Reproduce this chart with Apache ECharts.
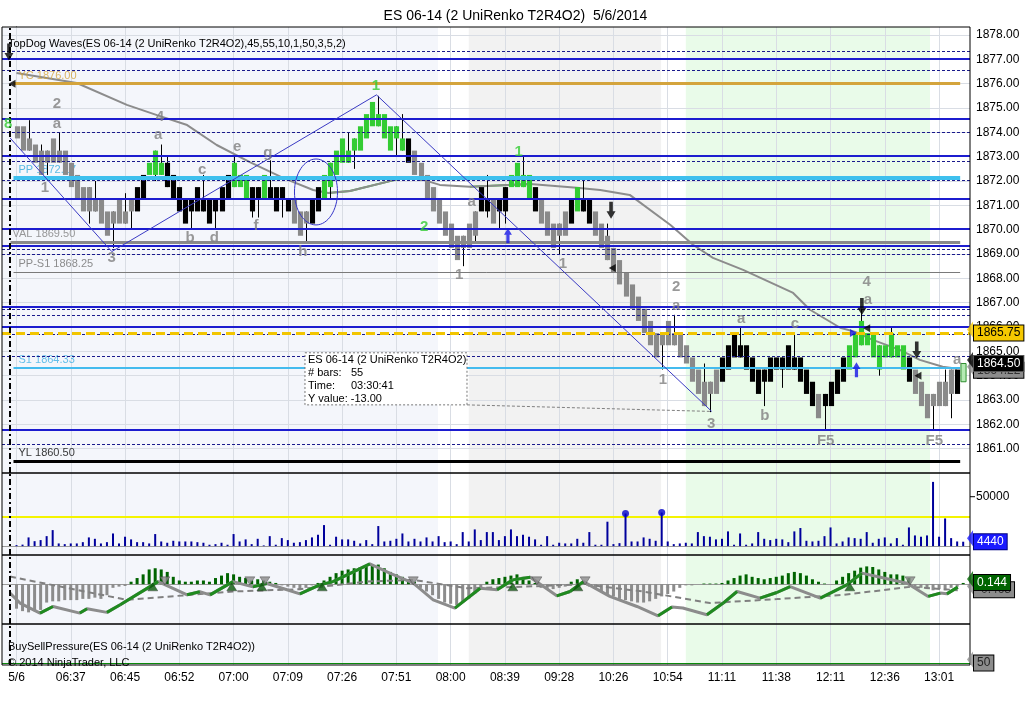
<!DOCTYPE html>
<html>
<head>
<meta charset="utf-8">
<title>ES 06-14 (2 UniRenko T2R4O2) 5/6/2014</title>
<script src="https://cdn.jsdelivr.net/npm/echarts@6/dist/echarts.min.js"></script>
<style>
html,body{margin:0;padding:0;background:#fff;}
#chart{width:1031px;height:711px;}
</style>
</head>
<body>
<div id="chart"></div>
<script>
// ---------------- DATA ----------------
const timeLabels = ['5/6','06:37','06:45','06:52','07:00','07:09','07:26','07:51','08:00','08:39','09:28','10:26','10:54','11:11','11:38','12:11','12:36','13:01'];
const labelEvery = 9;

// bar colour codes: G grey, K black, N green, L light (forming) bar
const barColor = ('GGGGGGGGGGGGGGGGGGGG' + 'KK' + 'NNN' + 'KKKKKKKKKKK' + 'NNN' + 'KK' + 'N' + 'KKKK' + 'GGG' + 'KK' +
  'NNNNNNNNNNNNNN' + 'K' + 'GGGGGGGGGGG' + 'KK' + 'G' + 'KK' + 'NNNN' + 'K' + 'GGGGG' + 'K' + 'N' + 'KK' +
  'GGGGGGGGGGGGGGGGGGGGG' + 'KKKKKKKKKKKKKKKK' + 'G' + 'KKKK' + 'NNNNNNNNNN' + 'K' + 'GGGGGGG' + 'K' + 'L').split('');

const barTop = [1874.25,1874.25,1873.75,1873.5,1873.25,1873.25,1873.75,1873.25,1873.25,1872.75,
1872.25,1871.75,1871.75,1871.25,1871.25,1870.75,1870.75,1871.25,1870.75,1871.25,
1871.75,1872.25,1872.75,1873.25,1872.75,1872.75,1872.25,1871.75,1871.25,1871.25,
1871.75,1871.25,1871.25,1871.25,1871.75,1872.25,1872.75,1872.25,1872.25,1871.75,
1871.75,1872.25,1871.75,1871.75,1871.75,1871.25,1871.25,1870.75,1870.75,1871.25,
1871.75,1872.25,1872.75,1873.25,1873.75,1873.25,1873.75,1874.25,1874.75,1875.25,
1874.75,1874.75,1874.25,1874.25,1873.75,1873.75,1873.25,1872.75,1872.25,1871.75,
1871.25,1870.75,1870.25,1869.75,1869.75,1870.25,1870.75,1871.75,1871.25,1871.25,
1871.25,1871.75,1872.25,1872.75,1872.25,1872.25,1871.75,1871.25,1870.75,1870.25,
1870.25,1870.75,1871.25,1871.75,1871.25,1871.25,1870.75,1870.25,1869.75,1869.25,
1868.75,1868.25,1867.75,1867.25,1866.75,1866.25,1865.75,1865.75,1866.25,1865.75,
1865.75,1865.25,1864.75,1864.25,1863.75,1863.75,1864.25,1864.75,1865.25,1865.75,
1865.25,1865.25,1864.75,1864.25,1864.25,1864.75,1864.75,1864.75,1865.25,1864.75,
1864.75,1864.25,1863.75,1863.25,1863.25,1863.75,1864.25,1864.75,1865.25,1865.75,
1866.25,1865.75,1865.75,1865.25,1865.25,1865.75,1865.25,1865.25,1864.75,1864.25,
1863.75,1863.25,1863.25,1863.75,1863.75,1864.25,1864.25,1864.5];

const barBot = [1873.75,1873.25,1873.25,1872.75,1872.25,1872.75,1872.75,1872.75,1872.25,1871.75,
1871.25,1870.75,1870.75,1870.75,1870.25,1869.75,1870.25,1870.25,1870.25,1870.75,
1870.75,1871.25,1872.25,1872.25,1872.25,1871.75,1871.25,1870.75,1870.25,1870.75,
1870.75,1870.75,1870.25,1870.75,1870.75,1871.25,1871.75,1871.75,1871.25,1870.75,
1871.25,1871.25,1871.25,1870.75,1871.25,1870.75,1870.25,1869.75,1870.25,1870.25,
1870.75,1871.25,1871.75,1872.25,1872.75,1872.75,1873.25,1873.25,1873.75,1874.25,
1874.25,1873.75,1873.25,1873.75,1873.25,1872.75,1872.25,1872.0,1871.25,1870.75,
1870.25,1869.75,1869.25,1868.75,1869.25,1869.25,1869.75,1870.75,1870.75,1870.25,
1870.75,1870.75,1871.75,1871.75,1871.75,1871.25,1870.75,1870.25,1869.75,1869.25,
1869.75,1869.75,1870.25,1870.75,1870.75,1870.25,1869.75,1869.25,1868.75,1868.25,
1867.75,1867.25,1866.75,1866.25,1865.75,1865.25,1864.75,1865.25,1865.25,1865.25,
1864.75,1864.5,1863.75,1863.25,1862.75,1863.25,1863.25,1863.75,1864.25,1864.75,
1864.75,1864.25,1863.75,1863.25,1863.75,1863.75,1864.25,1864.25,1864.25,1864.25,
1863.75,1863.25,1862.75,1862.25,1862.75,1862.75,1863.25,1863.75,1864.25,1864.75,
1865.25,1865.25,1864.75,1864.25,1864.75,1864.75,1864.75,1864.25,1863.75,1863.25,
1862.75,1862.25,1862.75,1862.75,1862.75,1863.25,1863.25,1863.75];

// wicks that reach beyond the body: [bar index, price]
const wickHigh = [[2,1874.5],[4,1873.5],[7,1874.0],[13,1872.0],[18,1871.5],[24,1873.5],[25,1873.0],[31,1872.25],
[36,1873.0],[42,1872.85],[55,1874.0],[60,1875.5],[64,1874.75],[78,1872.25],[84,1873.0],[94,1872.0],[98,1870.25],
[109,1866.5],[114,1864.5],[120,1866.0],[129,1865.75],[140,1866.75],[145,1866.0],[154,1864.25]];
const wickLow = [[5,1872.25],[12,1870.25],[16,1869.25],[19,1870.0],[23,1872.0],[29,1870.0],[33,1870.0],[39,1870.5],
[40,1870.5],[44,1870.5],[48,1869.5],[52,1871.25],[56,1872.5],[63,1873.0],[74,1868.5],[76,1869.5],[78,1870.5],
[80,1870.0],[81,1870.25],[90,1869.0],[107,1864.25],[115,1862.5],[124,1862.75],[127,1863.5],[134,1861.75],
[143,1864.0],[152,1861.75],[155,1862.25]];

const volume = [1000,1500,8800,5000,6100,10100,16200,2700,2000,2700,
2700,4000,8800,7400,2700,4000,12800,2700,9500,6800,
4000,4000,2700,12200,4700,3400,5400,4700,4700,4700,
4000,3400,1400,2000,3400,1400,12200,4700,6800,2000,
7400,700,10100,1400,8100,6100,3400,4000,6100,8800,
11500,21300,1400,9500,6800,6800,5400,2700,6100,2000,
20300,4700,5400,7400,12800,4700,7400,4700,8800,4700,
10100,4000,4700,2000,14200,4700,16900,6100,14200,14200,
6100,10100,16900,10100,11500,9500,6800,1400,10100,1400,
3400,2700,2700,7400,3400,14200,1400,1400,24700,2000,
3000,33000,4700,4700,8800,7400,5400,34000,4700,2000,
2700,3400,2700,14200,10100,9500,6800,7400,14900,1400,
12800,1400,2700,14200,7400,6100,7400,6800,4000,14900,
18300,5400,4700,5400,10100,18900,2700,4700,8800,8100,
7400,14200,3400,7400,8800,2700,8100,1400,18900,10800,
9500,10800,65000,9500,28000,8100,4700,4440];
const volumeAlertLevel = 30000;
const volumeDotIdx = [101,107];
const volumeAxisLabels = [50000];

const oscHist = [-2.0,-2.2,-2.3,-2.2,-2.1,-1.5,-1.4,-1.4,-1.3,-1.3,-1.3,-1.2,-1.2,-1.1,-1.2,-0.9,-0.3,-0.2,-0.15,
0.2,0.5,0.8,1.2,1.3,1.2,1.0,0.6,
0.3,0.2,0.2,0.3,0.3,0.2,0.5,0.7,0.9,0.8,0.6,
0.5,0.3,0.4,0.3,0.2,0.1,-0.1,-0.2,
-0.3,-0.4,-0.3,-0.1,0.1,
0.3,0.6,0.9,1.1,1.2,1.3,1.4,1.5,1.6,1.6,
1.3,1.0,0.8,0.6,0.4,0.2,
-0.3,-0.6,-0.9,-1.2,-1.5,-1.6,-1.7,-1.5,-1.2,-0.8,
-0.3,0.2,0.4,0.5,0.6,0.7,0.8,0.6,0.3,0.1,
-0.3,-0.4,-0.4,-0.3,-0.2,0.2,0.4,0.2,
-0.2,-0.4,-0.6,-0.8,-1.0,-1.2,-1.3,-1.4,-1.5,-1.5,-1.4,-1.2,-1.0,-0.8,-0.6,-0.3,
-0.1,-0.1,0,0.05,0.05,0.05,
0.1,0.3,0.5,0.7,0.8,0.6,0.5,0.4,0.5,0.6,0.7,0.9,1.0,0.9,0.7,0.4,0.2,0.05,0,
0.3,0.6,0.9,1.1,1.35,1.45,1.4,1.2,1.0,0.8,0.8,0.7,0.5,
-0.2,-0.3,-0.4,-0.5,-0.4,-0.5,-0.3,-0.2,0.1];

// oscillator main line vertices (bar index, value)
const oscLineX = [-1.08,0.58,3.9,6.05,10.5,11.7,15.0,17.2,22.6,23.5,28.3,30.4,32.1,35.9,39.2,41.5,44.2,47.0,50.3,52.5,58.6,61.9,65.8,69.1,72.7,76.9,79.7,82.3,85.2,89.6,91.8,94.0,98.4,102.9,106.4,108.7,110.5,114.5,117.2,119.5,123.3,126.1,128.3,133.3,137.7,140.2,142.7,147.7,151.2,153.2,154.3,156.1];
const oscLineY = [-0.73,-1.54,-2.36,-1.82,-2.36,-2.0,-2.3,-1.68,-0.06,0.21,-0.87,-0.62,-0.87,0.21,-0.22,0.05,-0.35,-0.79,-0.06,0.21,1.65,0.9,0.08,-1.28,-1.95,-0.33,-0.46,0.35,0.57,-0.95,-0.6,0.21,-1.0,-1.82,-2.58,-1.87,-1.95,-2.5,-1.54,-0.6,-1.14,-0.68,-0.2,-1.14,-0.06,0.9,0.62,0.08,-1.0,-0.73,-0.79,-0.24];
// signal (dashed) line vertices
const oscSigX = [-1.08,18.3,35.9,47.0,58.1,65.8,74.7,82.3,94.0,103.9,115.0,126.1,137.1,148.2,156.1];
const oscSigY = [0.62,-1.28,-0.6,-0.41,0.21,0.35,-0.33,-0.24,0.0,-0.6,-1.54,-1.22,-0.87,-0.22,-0.49];
const crossUpIdx = [22.6,35.7,40.7,50.7,82.3,93.1,138.2];
const crossDownIdx = [24.6,38.7,41.2,65.8,86.3,94.3,148.2];

// moving average vertices and green stretches (vertex index ranges)
const maX = [0,10,18.3,23.3,28.3,33.2,38.7,44.2,49.2,51.7,55.3,64.1,66.4,70.2,75.2,85.2,92.9,96.8,101.7,108.4,112.2,115.5,120.5,128.8,131.6,136.6,139.1,142,146.5,149.8,153.6,156];
const maY = [1876.44,1876.03,1875.13,1874.71,1874.30,1873.48,1872.78,1872.13,1871.63,1871.51,1871.59,1872.13,1872.13,1871.84,1871.76,1871.88,1871.72,1871.63,1871.43,1870.20,1869.38,1868.84,1868.35,1867.40,1866.71,1865.97,1865.80,1865.47,1865.06,1864.65,1864.37,1864.28];
const maGreenRanges = [[9,12],[14,15]];

// wave lines (bar index, price)
const waveX = [-1.07,15.8,59.7,115.3];
const waveY = [1873.77,1869.1,1875.54,1862.53];
const rulerX = [74.7,115.3];
const rulerY = [1862.8,1862.53];

const waveLabels = [
 [6.7,1875.17,'2','g'],[6.7,1874.34,'a','g'],[4.7,1871.72,'1','g'],[15.8,1868.84,'3','g'],
 [23.8,1874.63,'4','g'],[23.5,1873.89,'a','g'],[30.8,1872.46,'c','g'],[28.8,1869.66,'b','g'],
 [32.8,1869.66,'d','g'],[36.6,1873.40,'e','g'],[39.7,1870.16,'f','g'],[41.7,1873.15,'g','g'],
 [47.5,1869.09,'h','g'],[59.6,1875.9,'1','n'],[67.6,1870.1,'2','n'],[73.4,1868.14,'1','g'],
 [75.5,1871.14,'a','g'],[83.3,1873.2,'1','n'],[90.6,1868.6,'1','g'],[109.4,1867.65,'2','g'],
 [109.4,1866.87,'a','g'],[107.2,1863.83,'1','g'],[115.2,1862.02,'3','g'],[120.2,1866.34,'a','g'],
 [124.1,1862.35,'b','g'],[129.1,1866.13,'c','g'],[141,1867.86,'4','g'],[141.2,1867.12,'a','g'],
 [134.2,1861.33,'F5','g'],[152.2,1861.33,'F5','g'],[156,1864.65,'a','g'],[-1.4,1874.34,'8','n']
];

const downArrows = [[-1.25,1877.3],[98.6,1870.8],[140.2,1866.84],[149.3,1865.06]];
const upArrows = [[81.5,1869.75],[139.3,1864.24]];
const leftMarks = [[-0.75,1876.0],[98.8,1868.43],[141,1865.95],[149.5,1864.0]];
const rightMarks = [[138.8,1865.75]];

// horizontal levels
const dashedLevels = [1877.34,1876.56,1874.0,1872.83,1872.03,1871.24,1869.21,1868.99,1866.71,1866.49,1865.72,1864.8,1861.2];
const solidLevels = [1877.04,1874.54,1873.02,1871.29,1870.03,1869.33,1866.83,1866.0,1861.77];
const namedLevelPrice = [1876.00,1872.14,1869.50,1868.25,1864.33,1860.50];
const namedLevelText = ['YC 1876.00','PP 1872.17','VAL 1869.50','PP-S1 1868.25','S1 1864.33','YL 1860.50'];
const lastTradeLevel = 1865.75;

// right-hand value tags
const priceTagValues = [1864.22, 1864.50, 1865.75];
const oscTagValues = [-0.463, 0.144];
const bspLevel = 50;

const sessionBands = [[-2.405,69.9],[75.0,106.9],[111.0,151.5]];
const dashDotIdx = -1.07;

const infoBox = [47.84,1864.94,74.71,1862.80];
const infoLines = ['ES 06-14 (2 UniRenko T2R4O2)','# bars:','55','Time:','03:30:41','Y value: -13.00'];
const ellipseSpec = [49.67,1871.55,3.57,1.355];

// ---------------- STYLE ----------------
const FONT = 'Arial, "Liberation Sans", sans-serif';
const colorMap = {G:'#8a8a8a', K:'#000000', N:'#33cc33', L:'#b4eab4'};
const bandColors = ['#f4f6fb','#f2f2f2','#e9fbe9'];
const namedLevelStyle = [
  {color:'#d4a43c', width:3, from:-0.5, txt:'#d4a43c', tx:0.25},
  {color:'#3ec0ee', width:4, from:-0.5, txt:'#33aadd', tx:0.25},
  {color:'#8a8a8a', width:3, from:-1.0, txt:'#808080', tx:-0.75},
  {color:'#7a7a7a', width:1, from:-0.5, txt:'#707070', tx:0.25},
  {color:'#44bbee', width:2, from:-0.5, txt:'#3fb0e6', tx:0.25},
  {color:'#000000', width:3, from:-0.5, txt:'#000000', tx:0.25}
];
const levelEnd = 156.5;
const X_MIN = -2.405, X_MAX = 158.13;
const gridLeft = 2, gridRight = 61;
const grids = [
  {top:27, height:446},
  {top:473, height:82},
  {top:555, height:69},
  {top:624, height:41}
];

const tickIdx = timeLabels.map((_, k) => k * labelEvery);
const hiMap = {}; wickHigh.forEach(w => hiMap[w[0]] = w[1]);
const loMap = {}; wickLow.forEach(w => loMap[w[0]] = w[1]);
const candleData = barTop.map((t, k) => [k, t, barBot[k], hiMap[k] !== undefined ? hiMap[k] : t, loMap[k] !== undefined ? loMap[k] : barBot[k]]);

function renderCandle(params, api) {
  const i = api.value(0);
  const top = api.value(1), bot = api.value(2), hi = api.value(3), lo = api.value(4);
  const code = barColor[params.dataIndex];
  const pT = api.coord([i, top]), pB = api.coord([i, bot]);
  const pH = api.coord([i, hi]), pL = api.coord([i, lo]);
  const w = api.size([1, 0])[0] * 0.85;
  const x = Math.round(pT[0]) + 0.5;
  const children = [];
  if (hi > top || lo < bot) {
    children.push({type:'line', shape:{x1:x, y1:pH[1], x2:x, y2:pL[1]}, style:{stroke:'#000', lineWidth:1}});
  }
  children.push({type:'rect', shape:{x:x - w/2, y:pT[1], width:w, height:pB[1]-pT[1]},
    style:{fill:colorMap[code], stroke: code === 'L' ? '#2f8f2f' : colorMap[code], lineWidth: code === 'L' ? 1 : 0}});
  return {type:'group', children};
}

function bandSeries(g) {
  return {type:'line', xAxisIndex:g, yAxisIndex:g, data:[], silent:true, z:0,
    markArea:{silent:true, z:0, data: sessionBands.map((b, k) => [
      {xAxis:b[0], itemStyle:{color:bandColors[k]}}, {xAxis:b[1]}])}};
}
function gridLineSeries(g, hLines) {
  const data = tickIdx.map(v => ({xAxis:v}));
  (hLines || []).forEach(v => data.push({yAxis:v}));
  return {type:'line', xAxisIndex:g, yAxisIndex:g, data:[], silent:true, z:1,
    markLine:{silent:true, z:1, symbol:['none','none'], label:{show:false}, animation:false,
      lineStyle:{color:'#d9dde4', width:1, type:'solid'}, data}};
}
function dashDotSeries(g) {
  return {type:'line', xAxisIndex:g, yAxisIndex:g, data:[], silent:true, z:8,
    markLine:{silent:true, z:8, symbol:['none','none'], label:{show:false}, animation:false,
      lineStyle:{color:'#000', width:2, type:[6,3,2,3]}, data:[{xAxis:dashDotIdx}]}};
}
function tagSeries(g, tags) {
  return [
    {type:'line', xAxisIndex:g, yAxisIndex:g, data:[], silent:true, z:12, clip:false,
      markLine:{silent:true, z:12, symbol:['none','none'], animation:false,
        data: tags.map(t => ({yAxis:t.v, lineStyle:{color:'rgba(0,0,0,0)', width:1},
          label:{show:true, position:'end', distance:4, formatter:t.text, color:t.fg, backgroundColor:t.bg,
            borderColor:t.border || '#000', borderWidth:1, padding:[2,3,1,3], fontSize:12, fontFamily:FONT}}))}},
    {type:'scatter', xAxisIndex:g, yAxisIndex:g, silent:true, z:13, clip:false, symbol:'triangle', symbolRotate:90,
      symbolSize:[16,6], symbolOffset:[0,-3.5],
      data: tags.map(t => ({value:[X_MAX, t.v], itemStyle:{color:t.bg}}))}
  ];
}

const priceGridLines = [];
for (let v = 1861; v <= 1878; v++) priceGridLines.push(v);

const series = [];
for (let g = 0; g < 4; g++) series.push(bandSeries(g));
series.push(gridLineSeries(0, priceGridLines));
for (let g = 1; g < 4; g++) series.push(gridLineSeries(g, []));

// moving average (under bars)
series.push({type:'line', xAxisIndex:0, yAxisIndex:0, z:3, silent:true, symbol:'none',
  data: maX.map((x, k) => [x, maY[k]]), lineStyle:{color:'#8c8c8c', width:2}});
const maGreen = [];
maGreenRanges.forEach(r => { for (let k = r[0]; k < r[1]; k++) maGreen.push({coords:[[maX[k], maY[k]], [maX[k+1], maY[k+1]]]}); });
series.push({type:'lines', coordinateSystem:'cartesian2d', xAxisIndex:0, yAxisIndex:0, z:3, silent:true,
  polyline:false, data:maGreen, lineStyle:{color:'#4cc24c', width:2, opacity:1}});

// level label texts (under bars)
series.push({type:'scatter', xAxisIndex:0, yAxisIndex:0, z:4, silent:true, symbolSize:1,
  itemStyle:{color:'rgba(0,0,0,0)'},
  data: namedLevelPrice.map((p, k) => ({value:[namedLevelStyle[k].tx, p],
    label:{show:true, position:'right', distance:0, offset:[0,-8], formatter:namedLevelText[k],
      color:namedLevelStyle[k].txt, fontSize:11, fontFamily:FONT}}))});

// candles
series.push({type:'custom', xAxisIndex:0, yAxisIndex:0, z:5, silent:true,
  renderItem:renderCandle, encode:{x:0, y:[1,2,3,4]}, data:candleData});

// horizontal levels (over bars)
const levelData = [];
dashedLevels.forEach(p => levelData.push({yAxis:p, lineStyle:{color:'#1a1a8c', width:1, type:[3,2]}}));
solidLevels.forEach(p => levelData.push({yAxis:p, lineStyle:{color:'#1c1ccf', width:2, type:'solid'}}));
namedLevelPrice.forEach((p, k) => levelData.push([
  {coord:[namedLevelStyle[k].from, p], lineStyle:{color:namedLevelStyle[k].color, width:namedLevelStyle[k].width, type:'solid'}},
  {coord:[levelEnd, p]}]));
levelData.push({yAxis:lastTradeLevel, lineStyle:{color:'#f2c500', width:3, type:[9,5]}});
series.push({type:'line', xAxisIndex:0, yAxisIndex:0, data:[], silent:true, z:6,
  markLine:{silent:true, z:6, symbol:['none','none'], label:{show:false}, animation:false, data:levelData}});

// wave lines and ruler
series.push({type:'line', xAxisIndex:0, yAxisIndex:0, z:7, silent:true, symbol:'none',
  data: waveX.map((x, k) => [x, waveY[k]]), lineStyle:{color:'#3a3ac4', width:1}});
series.push({type:'line', xAxisIndex:0, yAxisIndex:0, z:7, silent:true, symbol:'none',
  data: rulerX.map((x, k) => [x, rulerY[k]]), lineStyle:{color:'#808080', width:1, type:[3,2]}});

// wave labels
series.push({type:'scatter', xAxisIndex:0, yAxisIndex:0, z:9, silent:true, symbolSize:1,
  itemStyle:{color:'rgba(0,0,0,0)'},
  data: waveLabels.map(w => ({value:[w[0], w[1]], label:{show:true, position:'inside', formatter:w[2],
    color: w[3] === 'n' ? '#33cc33' : '#7f7f7f', fontSize:15, fontWeight:'bold', fontFamily:FONT}}))});

// arrows / markers
const downPath = 'path://M3,0 L7,0 L7,9 L10,9 L5,16 L0,9 L3,9 Z';
const upPath = 'path://M5,0 L10,7 L7,7 L7,16 L3,16 L3,7 L0,7 Z';
series.push({type:'scatter', xAxisIndex:0, yAxisIndex:0, z:9, silent:true, symbol:downPath, symbolSize:[9,17],
  itemStyle:{color:'#000'}, data:downArrows});
series.push({type:'scatter', xAxisIndex:0, yAxisIndex:0, z:9, silent:true, symbol:upPath, symbolSize:[8,15],
  itemStyle:{color:'#1414e6'}, data:upArrows});
series.push({type:'scatter', xAxisIndex:0, yAxisIndex:0, z:9, silent:true, symbol:'triangle', symbolRotate:90, symbolSize:[8,7],
  itemStyle:{color:'#000'}, data:leftMarks});
series.push({type:'scatter', xAxisIndex:0, yAxisIndex:0, z:9, silent:true, symbol:'triangle', symbolRotate:-90, symbolSize:[8,7],
  itemStyle:{color:'#1414e6'}, data:rightMarks});

// volume panel
series.push({type:'line', xAxisIndex:1, yAxisIndex:1, data:[], silent:true, z:3,
  markLine:{silent:true, z:3, symbol:['none','none'], label:{show:false}, animation:false,
    data:[{yAxis:0, lineStyle:{color:'#9a9a9a', width:1, type:'solid'}},
          {yAxis:volumeAlertLevel, lineStyle:{color:'#f4f400', width:2, type:'solid'}}]}});
series.push({type:'bar', xAxisIndex:1, yAxisIndex:1, z:5, silent:true, barWidth:2,
  itemStyle:{color:'#00009c'}, data: volume.map((v, k) => [k, v])});
series.push({type:'scatter', xAxisIndex:1, yAxisIndex:1, z:6, silent:true, symbolSize:7,
  itemStyle:{color:'#0000c8'}, data: volumeDotIdx.map(k => [k, volume[k]])});

// oscillator panel
series.push({type:'line', xAxisIndex:2, yAxisIndex:2, data:[], silent:true, z:3,
  markLine:{silent:true, z:3, symbol:['none','none'], label:{show:false}, animation:false,
    data:[{yAxis:0, lineStyle:{color:'#9a9a9a', width:1, type:'solid'}}]}});
series.push({type:'bar', xAxisIndex:2, yAxisIndex:2, z:4, silent:true, barWidth:3,
  itemStyle:{color: p => p.value[1] >= 0 ? '#006400' : '#8c8c8c'},
  data: oscHist.map((v, k) => [k, v])});
series.push({type:'line', xAxisIndex:2, yAxisIndex:2, z:5, silent:true, symbol:'none',
  data: oscSigX.map((x, k) => [x, oscSigY[k]]), lineStyle:{color:'#808080', width:2, type:[6,4]}});
series.push({type:'line', xAxisIndex:2, yAxisIndex:2, z:6, silent:true, symbol:'none',
  data: oscLineX.map((x, k) => [x, oscLineY[k]]), lineStyle:{color:'#8c8c8c', width:3}});
const oscGreen = [];
for (let k = 0; k < oscLineX.length - 1; k++) {
  if (oscLineY[k+1] > oscLineY[k]) oscGreen.push({coords:[[oscLineX[k], oscLineY[k]], [oscLineX[k+1], oscLineY[k+1]]]});
}
series.push({type:'lines', coordinateSystem:'cartesian2d', xAxisIndex:2, yAxisIndex:2, z:7, silent:true,
  polyline:false, data:oscGreen, lineStyle:{color:'#1f8a1f', width:3, opacity:1}});
series.push({type:'scatter', xAxisIndex:2, yAxisIndex:2, z:8, silent:true, symbol:'triangle', symbolSize:[10,8],
  itemStyle:{color:'#0a5a0a', borderColor:'#333', borderWidth:0.5}, data: crossUpIdx.map(x => [x, -0.22])});
series.push({type:'scatter', xAxisIndex:2, yAxisIndex:2, z:8, silent:true, symbol:'triangle', symbolRotate:180, symbolSize:[10,8],
  itemStyle:{color:'#8a8a8a', borderColor:'#333', borderWidth:0.5}, data: crossDownIdx.map(x => [x, 0.27])});

// buy/sell pressure panel
series.push({type:'line', xAxisIndex:3, yAxisIndex:3, data:[], silent:true, z:3,
  markLine:{silent:true, z:3, symbol:['none','none'], label:{show:false}, animation:false,
    data:[{yAxis:bspLevel, lineStyle:{color:'#0a8a0a', width:1, type:'solid'}}]}});

for (let g = 0; g < 4; g++) series.push(dashDotSeries(g));

series.push(...tagSeries(0, [
  {v:priceTagValues[0], text:priceTagValues[0].toFixed(2), bg:'#8c8c8c', fg:'#333'},
  {v:priceTagValues[1], text:priceTagValues[1].toFixed(2), bg:'#000', fg:'#fff', border:'#555'},
  {v:priceTagValues[2], text:priceTagValues[2].toFixed(2), bg:'#f5c800', fg:'#000'}
]));
series.push(...tagSeries(1, [{v:volume[volume.length-1], text:String(volume[volume.length-1]), bg:'#1a1aff', fg:'#fff', border:'#000080'}]));
series.push(...tagSeries(2, [
  {v:oscTagValues[0], text:oscTagValues[0].toFixed(3), bg:'#8c8c8c', fg:'#333'},
  {v:oscTagValues[1], text:oscTagValues[1].toFixed(3), bg:'#006400', fg:'#fff'}
]));
series.push(...tagSeries(3, [{v:bspLevel, text:String(bspLevel), bg:'#8c8c8c', fg:'#222'}]));

const option = {
  backgroundColor:'#fff',
  animation:false,
  textStyle:{fontFamily:FONT},
  title:[
    {text:'ES 06-14 (2 UniRenko T2R4O2)  5/6/2014', left:'center', top:4,
      textStyle:{fontSize:14, fontWeight:'normal', color:'#000', fontFamily:FONT}},
    {text:'TopDog Waves(ES 06-14 (2 UniRenko T2R4O2),45,55,10,1,50,3,5,2)', left:3, top:33, z:20,
      textStyle:{fontSize:11, fontWeight:'normal', color:'#000', fontFamily:FONT}},
    {text:'BuySellPressure(ES 06-14 (2 UniRenko T2R4O2))', left:3, top:636, z:20,
      textStyle:{fontSize:11, fontWeight:'normal', color:'#000', fontFamily:FONT}},
    {text:'\u00a9 2014 NinjaTrader, LLC', left:3, top:652, z:20,
      textStyle:{fontSize:11, fontWeight:'normal', color:'#000', fontFamily:FONT}}
  ],
  grid: grids.map(gr => ({left:gridLeft, right:gridRight, top:gr.top, height:gr.height, show:true,
    borderColor:'#000', borderWidth:1, backgroundColor:'transparent', z:10})),
  xAxis: grids.map((gr, g) => ({gridIndex:g, type:'value', min:X_MIN, max:X_MAX, show: g === 3,
    axisLine:{show:false}, axisTick:{show:false}, splitLine:{show:false},
    axisLabel:{show: g === 3, customValues:tickIdx, margin:7, fontSize:12, color:'#000', fontFamily:FONT,
      formatter: v => { const k = Math.round(v / labelEvery); return timeLabels[k] || ''; }}})),
  yAxis: [
    {gridIndex:0, type:'value', position:'right', min:1860, max:1878.33, interval:1, scale:true,
      axisLine:{show:true, lineStyle:{color:'#000'}}, axisTick:{show:true, length:5, lineStyle:{color:'#000'}},
      splitLine:{show:false},
      axisLabel:{showMinLabel:false, showMaxLabel:false, margin:6, fontSize:12, color:'#000', fontFamily:FONT,
        formatter: v => v.toFixed(2)}},
    {gridIndex:1, type:'value', position:'right', min:-9000, max:74000,
      axisLine:{show:true, lineStyle:{color:'#000'}},
      axisTick:{show:false},
      splitLine:{show:false},
      axisLabel:{customValues:volumeAxisLabels, margin:6, fontSize:12, color:'#000', fontFamily:FONT,
        formatter: v => String(Math.round(v))}},
    {gridIndex:2, type:'value', position:'right', min:-3.25, max:2.38,
      axisLine:{show:true, lineStyle:{color:'#000'}}, axisTick:{show:false}, splitLine:{show:false},
      axisLabel:{show:false}},
    {gridIndex:3, type:'value', position:'right', min:49, max:70,
      axisLine:{show:true, lineStyle:{color:'#000'}}, axisTick:{show:false}, splitLine:{show:false},
      axisLabel:{show:false}}
  ],
  series
};

const chart = echarts.init(document.getElementById('chart'), null, {renderer:'canvas'});
chart.setOption(option);

// annotation overlays placed through the price grid's scales
const a = chart.convertToPixel({gridIndex:0}, [infoBox[0], infoBox[1]]);
const b = chart.convertToPixel({gridIndex:0}, [infoBox[2], infoBox[3]]);
const c = chart.convertToPixel({gridIndex:0}, [ellipseSpec[0], ellipseSpec[1]]);
const d = chart.convertToPixel({gridIndex:0}, [ellipseSpec[0] + ellipseSpec[2], ellipseSpec[1] - ellipseSpec[3]]);
const vt = chart.convertToPixel({gridIndex:1}, [X_MAX, volumeAxisLabels[0]]);
const tf = '11px ' + FONT;
chart.setOption({graphic:[
  {type:'rect', z:30, silent:true, shape:{x:a[0], y:a[1], width:b[0]-a[0], height:b[1]-a[1]},
    style:{fill:'#fff', stroke:'#777', lineWidth:1, lineDash:[2,2]}},
  {type:'text', z:31, silent:true, x:a[0]+3, y:a[1]+7, style:{text:infoLines[0], font:tf, fill:'#000', verticalAlign:'middle'}},
  {type:'text', z:31, silent:true, x:a[0]+3, y:a[1]+20, style:{text:infoLines[1], font:tf, fill:'#000', verticalAlign:'middle'}},
  {type:'text', z:31, silent:true, x:a[0]+46, y:a[1]+20, style:{text:infoLines[2], font:tf, fill:'#000', verticalAlign:'middle'}},
  {type:'text', z:31, silent:true, x:a[0]+3, y:a[1]+33, style:{text:infoLines[3], font:tf, fill:'#000', verticalAlign:'middle'}},
  {type:'text', z:31, silent:true, x:a[0]+46, y:a[1]+33, style:{text:infoLines[4], font:tf, fill:'#000', verticalAlign:'middle'}},
  {type:'text', z:31, silent:true, x:a[0]+3, y:a[1]+46, style:{text:infoLines[5], font:tf, fill:'#000', verticalAlign:'middle'}},
  {type:'ellipse', z:30, silent:true, shape:{cx:c[0], cy:c[1], rx:Math.abs(d[0]-c[0]), ry:Math.abs(d[1]-c[1])},
    style:{fill:'none', stroke:'#3535c8', lineWidth:1}},
  {type:'line', z:30, silent:true, shape:{x1:vt[0], y1:vt[1], x2:vt[0]+5, y2:vt[1]}, style:{stroke:'#000', lineWidth:1}}
]});
</script>
</body>
</html>
